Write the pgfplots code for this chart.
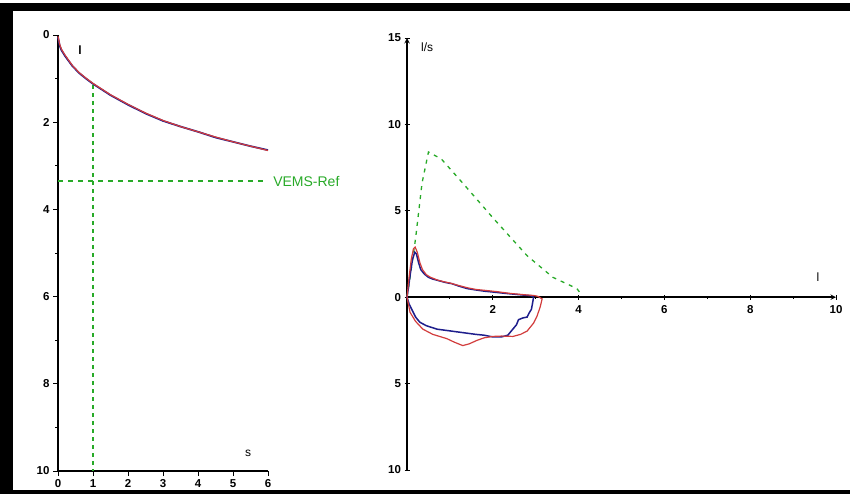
\documentclass[border=0pt]{standalone}
\usepackage{pgfplots}
\pgfplotsset{compat=1.18}
\usepackage{fontspec}
\setmainfont{Liberation Sans}
\definecolor{cblue}{RGB}{30,30,140}
\definecolor{cred}{RGB}{210,60,60}
\definecolor{cgreen}{RGB}{40,170,40}
\begin{document}
\begin{tikzpicture}[x=1pt,y=1pt]
\useasboundingbox (0,0) rectangle (850,494);
\fill[white] (0,0) rectangle (850,494);
\fill[black] (0,0) rectangle (13,491);
\fill[black] (0,483) rectangle (850,491);
\fill[black] (0,0) rectangle (850,4);
\pgfplotsset{
  myax/.style={
    scale only axis, anchor=south west, clip=false,
    axis line style={line width=1.4pt,-},
    tick style={black, line width=0.9pt},
    major tick length=5pt, minor tick length=3pt,
    tick align=outside,
    tick label style={font=\fontsize{11.5}{14}\selectfont\bfseries},
    /pgf/number format/assume math mode=true,
  }
}
\begin{axis}[myax, at={(58pt,23pt)}, width=210pt, height=436pt,
  xmin=0, xmax=6, ymin=0, ymax=10, y dir=reverse,
  axis x line*=bottom, axis y line*=left,
  xtick={0,1,...,6}, ytick={0,2,...,10}, minor ytick={1,3,5,7,9}]
\addplot[cgreen, line width=1.3pt, dash pattern=on 4pt off 4pt] coordinates {(1,1.15) (1,10)};
\addplot[cgreen, line width=1.3pt, dash pattern=on 5pt off 5pt] coordinates {(0,3.35) (5.9,3.35)};
\addplot[cblue, line width=1.8pt] coordinates {
(0,0.05) (0.05,0.25) (0.1,0.35) (0.2,0.48) (0.4,0.7) (0.6,0.87) (0.8,1.0) (1.0,1.12) (1.5,1.38) (2.0,1.6) (2.5,1.8) (3.0,1.97) (3.5,2.1) (4.0,2.22) (4.5,2.35) (5.0,2.45) (5.5,2.55) (6.0,2.64)};
\addplot[cred, line width=1.2pt] coordinates {
(0,0.03) (0.05,0.22) (0.1,0.33) (0.2,0.46) (0.4,0.69) (0.6,0.86) (0.8,0.99) (1.0,1.11) (1.5,1.37) (2.0,1.59) (2.5,1.79) (3.0,1.96) (3.5,2.1) (4.0,2.22) (4.5,2.34) (5.0,2.45) (5.5,2.55) (6.0,2.65)};
\node[cgreen, anchor=west, font=\fontsize{14}{16}\selectfont] at (axis cs:6.05,3.35) {VEMS-Ref};
\node[font=\fontsize{12}{14}\selectfont\bfseries] at (axis cs:0.63,0.34) {l};
\node[font=\fontsize{12}{14}\selectfont] at (axis cs:5.43,9.6) {s};
\end{axis}
\begin{axis}[myax, at={(407pt,24pt)}, width=429pt, height=432pt,
  xmin=0, xmax=10, ymin=-10, ymax=15,
  axis x line=middle, axis y line=left,
  xtick={2,4,6,8,10}, minor xtick={1,3,5,7,9},
  ytick={-10,-5,0,5,10,15}, yticklabels={10,5,0,5,10,15},
  xticklabel style={anchor=north, yshift=-2pt}]
\addplot[cgreen, line width=1.3pt, dash pattern=on 4pt off 5pt] coordinates {
(0,0) (0.05,0.8) (0.2,3.4) (0.35,6.6) (0.5,8.4) (0.8,8.0) (1.3,6.6) (2.0,4.6) (2.8,2.4) (3.4,1.15) (3.96,0.5) (4.05,0.2)};
\addplot[cblue, line width=1.5pt] coordinates {
(0,0) (0.03,0.5) (0.08,1.4) (0.13,2.2) (0.18,2.6) (0.22,2.5) (0.27,2.0) (0.32,1.6) (0.4,1.35) (0.5,1.15) (0.6,1.05) (0.75,0.95) (0.9,0.85) (1.05,0.78) (1.2,0.65) (1.4,0.5) (1.6,0.42) (1.8,0.35) (2.0,0.3) (2.3,0.22) (2.6,0.15) (2.9,0.08) (2.95,0)
(2.93,-0.3) (2.9,-0.7) (2.85,-0.9) (2.8,-1.15) (2.7,-1.2) (2.6,-1.3) (2.55,-1.6) (2.45,-1.9) (2.35,-2.2) (2.2,-2.3) (2.0,-2.3) (1.8,-2.2) (1.6,-2.15) (1.3,-2.05) (1.0,-1.95) (0.7,-1.85) (0.45,-1.65) (0.3,-1.45) (0.2,-1.15) (0.12,-0.75) (0.05,-0.4) (0,0)};
\addplot[cred, line width=1.2pt] coordinates {
(0,0) (0.05,1.2) (0.1,2.2) (0.15,2.8) (0.19,2.9) (0.24,2.6) (0.3,2.0) (0.36,1.6) (0.45,1.3) (0.55,1.15) (0.7,1.0) (0.85,0.9) (1.0,0.82) (1.2,0.68) (1.4,0.55) (1.6,0.45) (1.8,0.4) (2.1,0.32) (2.4,0.22) (2.7,0.15) (2.95,0.1) (3.05,0.05)
(3.15,-0.1) (3.1,-0.6) (3.03,-1.1) (2.95,-1.5) (2.8,-1.96) (2.65,-2.15) (2.47,-2.27) (2.2,-2.25) (2.0,-2.27) (1.8,-2.35) (1.63,-2.5) (1.45,-2.7) (1.3,-2.8) (1.1,-2.6) (0.93,-2.4) (0.6,-2.15) (0.37,-1.85) (0.2,-1.4) (0.07,-0.87) (0,0)};
\node[font=\fontsize{12}{14}\selectfont] at (axis cs:0.47,14.45) {l/s};
\node[font=\fontsize{12}{14}\selectfont] at (axis cs:9.58,1.16) {l};
\end{axis}
\end{tikzpicture}
\end{document}
